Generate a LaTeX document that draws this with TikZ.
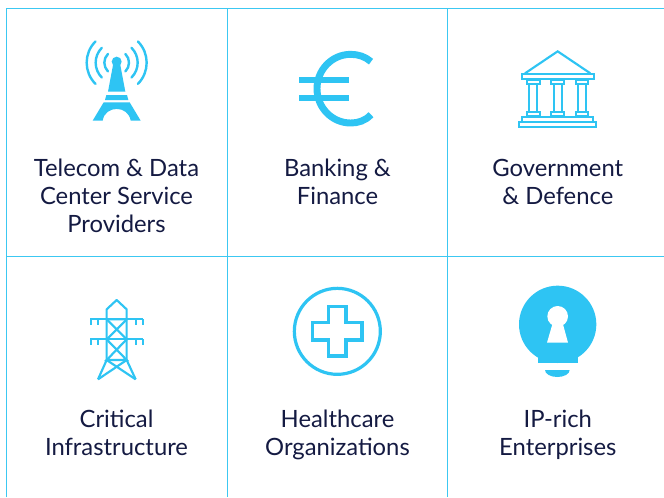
\documentclass[tikz,border=0pt]{standalone}
\usepackage{fontspec}
\setmainfont{Lato}
\definecolor{iconblue}{HTML}{2EC4F3}
\definecolor{gridblue}{HTML}{3CC8F2}
\definecolor{inknavy}{HTML}{141A42}
\tikzset{
  gridline/.style={draw=gridblue,line width=1pt},
  label/.style={align=center,text=inknavy,font=\fontsize{17.85}{21.2}\selectfont,inner sep=0pt},
  iconline/.style={draw=iconblue,line width=1.8pt,fill=none},
  thinicon/.style={draw=iconblue,line width=1.6pt,fill=none},
  zoomed/.style={x=0.25pt,y=-0.25pt}
}
\begin{document}
\begin{tikzpicture}[x=0.75pt,y=-0.75pt]
\useasboundingbox (0,0) rectangle (664,497);
\fill[white] (0,0) rectangle (664,497);
% grid
\draw[gridline] (6.5,497) -- (6.5,8.5) -- (664,8.5);
\draw[gridline] (227.2,8.5) -- (227.2,497);
\draw[gridline] (447.5,8.5) -- (447.5,497);
\draw[gridline] (6.5,256.5) -- (664,256.5);
% labels
\node[label] (telecom) at (116.5,195.8) {Telecom \& Data\\Center Service\\Providers};
\node[label] (banking) at (337.5,182) {Banking \&\\Finance};
\node[label] (gov) at (557.8,182) {Government\\\& Defence};
\node[label] (critical) at (116.5,433) {Critical\\Infrastructure};
\node[label] (health) at (337.5,435) {Healthcare\\Organizations};
\node[label] (iprich) at (557.8,435) {IP-rich\\Enterprises};
% tower
\begin{scope}[shift={(60,20)},zoomed]
  \foreach \r in {37,63,90}{
    \draw[iconline,line cap=round] (170,128)++(135:\r) arc[start angle=135,end angle=225,radius=\r];
    \draw[iconline,line cap=round] (170,128)++(45:\r) arc[start angle=45,end angle=-45,radius=\r];
  }
  \fill[iconblue] (170,125) circle[radius=15];
  \fill[iconblue] (160,130) -- (180,130) -- (196,215) -- (144,215) -- cycle;
  \fill[iconblue] (139,225) -- (201,225) -- (205,240) -- (135,240) -- cycle;
  \fill[iconblue] (131,247) -- (209,247) -- (242,302) -- (212,302) .. controls (205,255) and (135,255) .. (128,302) -- (98,302) -- cycle;
\end{scope}
% euro
\begin{scope}[shift={(280,30)},zoomed]
  \draw[draw=iconblue,line width=5.2pt] (273,95) .. controls (256,80) and (235,73) .. (212,73) arc[start angle=270,end angle=90,x radius=101,y radius=103] .. controls (235,279) and (256,272) .. (273,254);
  \fill[iconblue] (58,142) rectangle (206,160);
  \fill[iconblue] (58,194) rectangle (206,212);
\end{scope}
% government
\begin{scope}[shift={(500,30)},zoomed]
  \draw[thinicon,line join=miter] (75,130) -- (173,64) -- (271,130);
  \draw[thinicon] (66,131) rectangle (281,147);
  \foreach \c in {100,173,246}{
    \draw[thinicon] (\c-19,150) rectangle (\c+19,162);
    \draw[thinicon] (\c-12,162) rectangle (\c+12,245);
    \draw[thinicon] (\c-19,245) rectangle (\c+19,259);
  }
  \draw[thinicon] (66,261) rectangle (279,275);
  \draw[thinicon] (58,275) rectangle (289,291);
\end{scope}
% pylon
\begin{scope}[shift={(70,290)},zoomed]
  \draw[thinicon,line join=round] (110,88) -- (110,58) -- (140,30) -- (170,58) -- (170,88);
  \draw[thinicon,line join=round] (84,268) -- (110,210) -- (110,88) -- (170,88) -- (170,210) -- (197,268);
  \draw[thinicon] (110,88) -- (170,148) -- (110,210) -- (170,210) -- (110,148) -- (170,88);
  \draw[thinicon] (110,148) -- (170,148);
  \draw[thinicon] (84,268) -- (170,210);
  \draw[thinicon] (197,268) -- (110,210);
  \foreach \y in {88,148}{
    \draw[thinicon] (61,\y) -- (219,\y);
    \foreach \x in {62,84,197,218} \draw[thinicon] (\x,\y) -- (\x,\y+17);
  }
\end{scope}
% health
\begin{scope}[shift={(280,275)},zoomed]
  \draw[draw=iconblue,line width=2.4pt] (172,169) circle[radius=129];
  \draw[draw=iconblue,line width=2.3pt,line join=miter] (146,94) -- (198,94) -- (198,143) -- (246,143) -- (246,195) -- (198,195) -- (198,243) -- (146,243) -- (146,195) -- (98,195) -- (98,143) -- (146,143) -- cycle;
\end{scope}
% bulb
\begin{scope}[shift={(505,275)},zoomed]
  \fill[iconblue] (158,148) circle[radius=116];
  \fill[iconblue] (98,215) rectangle (218,264);
  \fill[white] (158,124) circle[radius=31];
  \fill[white] (142,148) -- (174,148) -- (189,203) -- (126,203) -- cycle;
  \fill[iconblue] (120,285) -- (194,285) arc[start angle=0,end angle=180,x radius=37,y radius=21] -- cycle;
\end{scope}
\end{tikzpicture}
\end{document}
